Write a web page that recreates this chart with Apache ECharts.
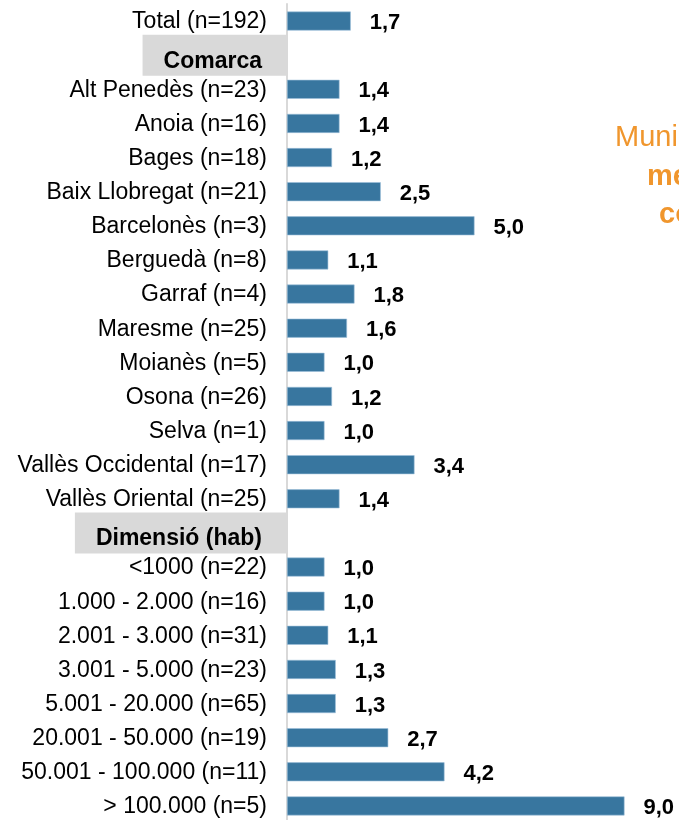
<!DOCTYPE html>
<html>
<head>
<meta charset="utf-8">
<script src="https://cdn.jsdelivr.net/npm/echarts@6/dist/echarts.min.js"></script>
<style>
  html, body { margin: 0; padding: 0; background: #fff; overflow: hidden; }
  #main { width: 679px; height: 826px; }
</style>
</head>
<body>
<div id="main"></div>
<script>
// files (categories), top to bottom
var categories = [
  'Total (n=192)',
  'Comarca',
  'Alt Penedès (n=23)', 'Anoia (n=16)', 'Bages (n=18)', 'Baix Llobregat (n=21)',
  'Barcelonès (n=3)', 'Berguedà (n=8)', 'Garraf (n=4)', 'Maresme (n=25)',
  'Moianès (n=5)', 'Osona (n=26)', 'Selva (n=1)', 'Vallès Occidental (n=17)',
  'Vallès Oriental (n=25)',
  'Dimensió (hab)',
  '<1000 (n=22)', '1.000 - 2.000 (n=16)', '2.001 - 3.000 (n=31)', '3.001 - 5.000 (n=23)',
  '5.001 - 20.000 (n=65)', '20.001 - 50.000 (n=19)', '50.001 - 100.000 (n=11)', '> 100.000 (n=5)'
];
// files de capçalera (sense barra)
var headers = ['Comarca', 'Dimensió (hab)'];
// valors ('-' = capçalera)
var values = [
  1.7,
  '-',
  1.4, 1.4, 1.2, 2.5, 5.0, 1.1, 1.8, 1.6, 1.0, 1.2, 1.0, 3.4, 1.4,
  '-',
  1.0, 1.0, 1.1, 1.3, 1.3, 2.7, 4.2, 9.0
];

var chart = echarts.init(document.getElementById('main'));
var font = "'Liberation Sans', Arial, sans-serif";
var orange = '#f0962d';

chart.setOption({
  animation: false,
  textStyle: { fontFamily: font },
  title: [
    { text: 'Municipis', left: 615, top: 123, padding: 0, textStyle: { fontSize: 29, fontWeight: 'normal', color: orange, fontFamily: font } },
    { text: 'menys', left: 647, top: 162, padding: 0, textStyle: { fontSize: 29, fontWeight: 'bold', color: orange, fontFamily: font } },
    { text: 'consum', left: 659, top: 200, padding: 0, textStyle: { fontSize: 29, fontWeight: 'bold', color: orange, fontFamily: font } }
  ],
  grid: { left: 287, right: 17, top: 4, height: 819 },
  xAxis: {
    type: 'value',
    min: 0,
    max: 10,
    show: false
  },
  yAxis: {
    type: 'category',
    inverse: true,
    data: categories,
    axisLine: { show: true, lineStyle: { color: '#d9d9d9', width: 2 } },
    axisTick: { show: false },
    axisLabel: {
      margin: 1,
      interval: 0,
      formatter: function (v) {
        return headers.indexOf(v) >= 0 ? '{h|' + v + '}' : '{n|' + v + '}';
      },
      rich: {
        n: { fontSize: 23, color: '#000', fontFamily: font, padding: [2, 19, 0, 0] },
        h: {
          fontSize: 23, fontWeight: 'bold', color: '#000', fontFamily: font,
          backgroundColor: '#d9d9d9', lineHeight: 26, padding: [15, 24, 3, 21]
        }
      }
    }
  },
  series: [{
    type: 'bar',
    data: values,
    barWidth: 19,
    itemStyle: { color: '#38769f', borderColor: '#9cc0da', borderWidth: 0.6 },
    label: {
      show: true,
      position: 'right',
      distance: 19,
      offset: [0, 2],
      fontSize: 22,
      fontWeight: 'bold',
      color: '#000',
      fontFamily: font,
      formatter: function (p) {
        return p.value.toFixed(1).replace('.', ',');
      }
    }
  }]
});
</script>
</body>
</html>
